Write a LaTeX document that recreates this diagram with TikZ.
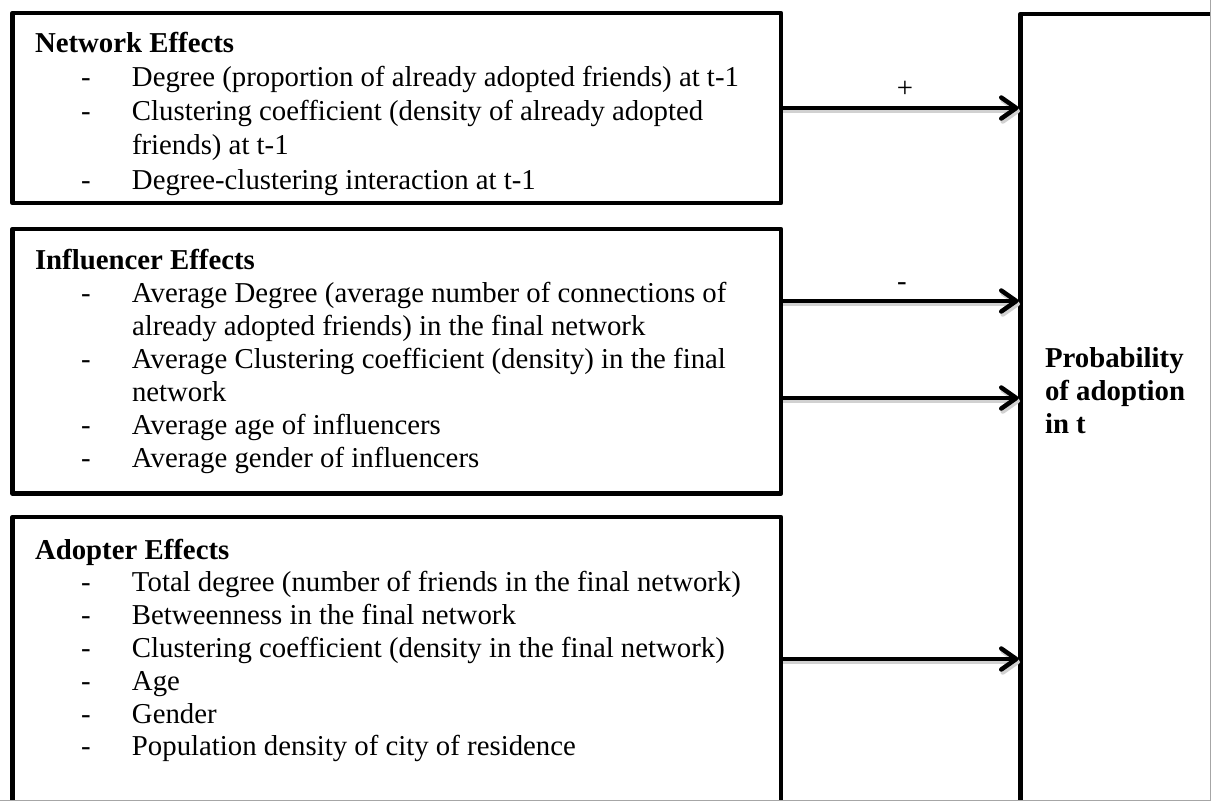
\documentclass[tikz,border=0pt]{standalone}
\usepackage{fontspec}
\setmainfont{Liberation Serif}
\usetikzlibrary{arrows.meta}

% one bullet line of a factor list: indented dash, then the text
\newcommand\dashitem{\hspace*{46pt}\makebox[51pt][l]{-}}
% continuation of a wrapped bullet line
\newcommand\contline{\hspace*{97pt}}
\newcommand\bodyfont{\fontsize{28.8}{33}\selectfont}

\begin{document}
\begin{tikzpicture}[x=1pt,y=-1pt,
  box/.style={draw, line width=4.5pt, line join=round, inner sep=0pt,
              outer sep=0pt, anchor=north west},
  body/.style={inner sep=0pt, outer sep=0pt, anchor=base west},
  link/.style={line width=4.5pt, shorten >=2pt,
               -{Straight Barb[length=15pt,width=21pt,round]}},
  linkshade/.style={link, draw=black!18,
               transform canvas={xshift=1.5pt,yshift=-3pt}},
  sign/.style={inner sep=0pt, anchor=base, font=\bodyfont}]

\useasboundingbox (0,0) rectangle (1211,801);
\fill[white] (0,0) rectangle (1211,801);
\clip (0,0) rectangle (1211,801);

% factor groups and the outcome
\node[box, minimum width=768.5pt, minimum height=190pt]   (net)   at (12.5,13)  {};
\node[box, minimum width=768.5pt, minimum height=264.5pt] (infl)  at (12.5,229) {};
\node[box, minimum width=768.5pt, minimum height=340pt]   (adopt) at (12.5,517) {};
\node[box, minimum width=260pt,   minimum height=850pt]   (prob)  at (1020.5,14) {};

% box contents
\node[body] (netT) at (35,52) {\parbox[t]{740pt}{\fontsize{28.8}{34.3}\selectfont
  \textbf{Network Effects}\\
  \dashitem Degree (proportion of already adopted friends) at t-1\\
  \dashitem Clustering coefficient (density of already adopted\\
  \contline friends) at t-1\\
  \dashitem Degree-clustering interaction at t-1}};

\node[body] (inflT) at (35,269) {\parbox[t]{740pt}{\bodyfont
  \textbf{Influencer Effects}\\
  \dashitem Average Degree (average number of connections of\\
  \contline already adopted friends) in the final network\\
  \dashitem Average Clustering coefficient (density) in the final\\
  \contline network\\
  \dashitem Average age of influencers\\
  \dashitem Average gender of influencers}};

\node[body] (adoptT) at (35,559) {\parbox[t]{740pt}{\fontsize{28.8}{32.8}\selectfont
  \textbf{Adopter Effects}\\
  \dashitem Total degree (number of friends in the final network)\\
  \dashitem Betweenness in the final network\\
  \dashitem Clustering coefficient (density in the final network)\\
  \dashitem Age\\
  \dashitem Gender\\
  \dashitem Population density of city of residence}};

\node[body] (probT) at (1045,367) {\parbox[t]{160pt}{\bodyfont\bfseries
  Probability\\ of adoption\\ in t}};

% effects on the adoption probability (soft shadow first)
\draw[linkshade] (net.east) -- (prob.west |- net.east);
\draw[link]      (net.east) -- (prob.west |- net.east);
\draw[linkshade] (infl.east |- 0,301) -- (prob.west |- 0,301);
\draw[link]      (infl.east |- 0,301) -- (prob.west |- 0,301);
\draw[linkshade] (infl.east |- 0,398) -- (prob.west |- 0,398);
\draw[link]      (infl.east |- 0,398) -- (prob.west |- 0,398);
\draw[linkshade] (adopt.east |- 0,659) -- (prob.west |- 0,659);
\draw[link]      (adopt.east |- 0,659) -- (prob.west |- 0,659);

\node[sign] (plus)  at (905,97)  {+};
\node[sign] (minus) at (902,290) {-};

% thin frame on the right and bottom edges
\draw[black!35, line width=1pt] (1210.5,0) -- (1210.5,800.5) -- (0,800.5);
\end{tikzpicture}
\end{document}
